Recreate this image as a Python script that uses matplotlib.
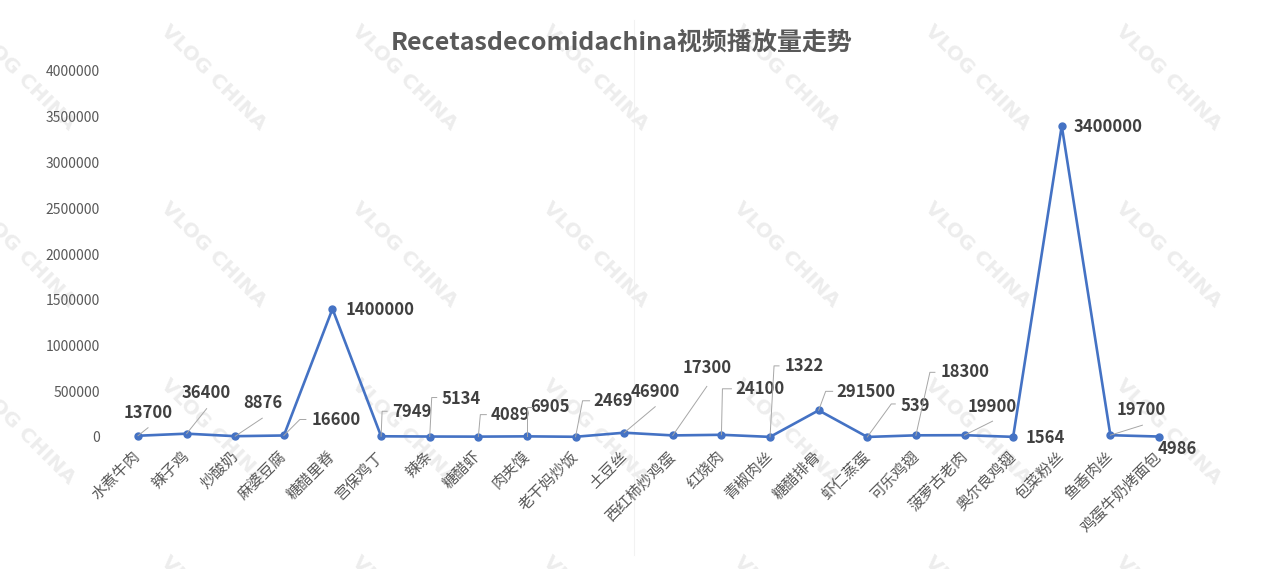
import numpy as np
import matplotlib
matplotlib.use('Agg')
import matplotlib.pyplot as plt
from matplotlib.lines import Line2D
from matplotlib.transforms import IdentityTransform

plt.rcParams['font.family'] = ['Noto Sans CJK SC', 'DejaVu Sans']

dishes = ['水煮牛肉', '辣子鸡', '炒酸奶', '麻婆豆腐', '糖醋里脊', '宫保鸡丁', '辣条', '糖醋虾',
          '肉夹馍', '老干妈炒饭', '土豆丝', '西红柿炒鸡蛋', '红烧肉', '青椒肉丝', '糖醋排骨',
          '虾仁蒸蛋', '可乐鸡翅', '菠萝古老肉', '奥尔良鸡翅', '包菜粉丝', '鱼香肉丝', '鸡蛋牛奶烤面包']
views = [13700, 36400, 8876, 16600, 1400000, 7949, 5134, 4089, 6905, 2469, 46900,
         17300, 24100, 1322, 291500, 539, 18300, 19900, 1564, 3400000, 19700, 4986]
yticks = [0, 500000, 1000000, 1500000, 2000000, 2500000, 3000000, 3500000, 4000000]

# label placement in pixels relative to the point (x right, y down): ha, dx, dy, leader line
label_pos = [
    ('center', 10, -23, [(0, 0), (10, -8)]),
    ('center', 20, -41, [(0, 0), (20, -25)]),
    ('center', 28, -33, [(0, 0), (27, -18)]),
    ('left', 28, -15, [(0, 0), (16, -16), (22, -16)]),
    ('left', 13, 1, []),
    ('left', 11, -24, [(0, 0), (1, -25), (6, -25)]),
    ('left', 12, -38, [(0, 0), (2, -39), (7, -39)]),
    ('left', 12, -22, [(0, 0), (2, -22), (8, -22)]),
    ('left', 3, -29, [(0, 0), (0, -29), (5, -29)]),
    ('left', 18, -36, [(0, 0), (7, -36), (14, -36)]),
    ('center', 31, -41, [(0, 0), (31, -26)]),
    ('center', 34, -67, [(0, 0), (34, -49)]),
    ('left', 14, -46, [(0, 0), (1, -46), (10, -46)]),
    ('left', 15, -71, [(0, 0), (4, -71), (9, -71)]),
    ('left', 18, -18, [(0, 0), (7, -19), (14, -19)]),
    ('left', 33, -31, [(0, 0), (24, -33), (28, -33)]),
    ('left', 25, -63, [(0, 0), (14, -63), (19, -63)]),
    ('center', 28, -28, [(0, 0), (28, -14)]),
    ('left', 12, 1, []),
    ('left', 12, 1, []),
    ('center', 31, -25, [(0, 0), (32, -10)]),
    ('left', -1, 12, []),
]

W, H = 1269, 569
fig = plt.figure(figsize=(W / 100, H / 100), dpi=100)
fig.patch.set_facecolor('white')

# watermark
for cy in [78, 255, 432, 609]:
    for cx in [22, 213, 404, 595, 786, 977, 1168]:
        fig.text(cx / W, 1 - cy / H, 'VLOG CHINA', rotation=-45, ha='center', va='center',
                 fontsize=14.5, fontweight='bold', color='#ededed', family='DejaVu Sans', zorder=-2)

fig.add_artist(Line2D([634 / W, 634 / W], [1 - 20 / H, 1 - 555 / H], color='#f2f2f2', lw=0.8, zorder=-2))

ax = fig.add_axes([113.7 / W, 1 - 437 / H, (1183.3 - 113.7) / W, (437 - 71) / H])
ax.patch.set_alpha(0)
x = np.arange(len(dishes))
ax.plot(x, views, color='#4472C4', lw=1.9, marker='o', markersize=5, clip_on=False, zorder=3)
ax.set_xlim(-0.5, len(dishes) - 0.5)
ax.set_ylim(0, 4000000)
ax.set_yticks(yticks)
ax.set_yticklabels([str(t) for t in yticks], fontsize=10, color='#595959')
ax.set_xticks(x)
ax.set_xticklabels(dishes, rotation=45, ha='right', va='center', rotation_mode='anchor',
                   fontsize=11, color='#595959')
ax.tick_params(axis='x', length=0, pad=12)
ax.tick_params(axis='y', length=0, pad=10)
for s in ax.spines.values():
    s.set_visible(False)

fig.text(622 / W, 1 - 43 / H, 'Recetasdecomidachina视频播放量走势', ha='center', va='center',
         fontsize=18, fontweight='bold', color='#595959')

for i, v in enumerate(views):
    ha, dx, dy, leader = label_pos[i]
    px, py = ax.transData.transform((i, v))
    if leader:
        xs = [px + a for a, b in leader]
        ys = [py - b for a, b in leader]
        fig.add_artist(Line2D(xs, ys, transform=IdentityTransform(), color='#a6a6a6', lw=0.7, zorder=2))
    ax.annotate(str(v), xy=(i, v), xytext=(dx, -dy), textcoords='offset pixels', ha=ha, va='center',
                fontsize=12, fontweight='bold', color='#404040', annotation_clip=False)

fig.savefig('out.png', dpi=100)
